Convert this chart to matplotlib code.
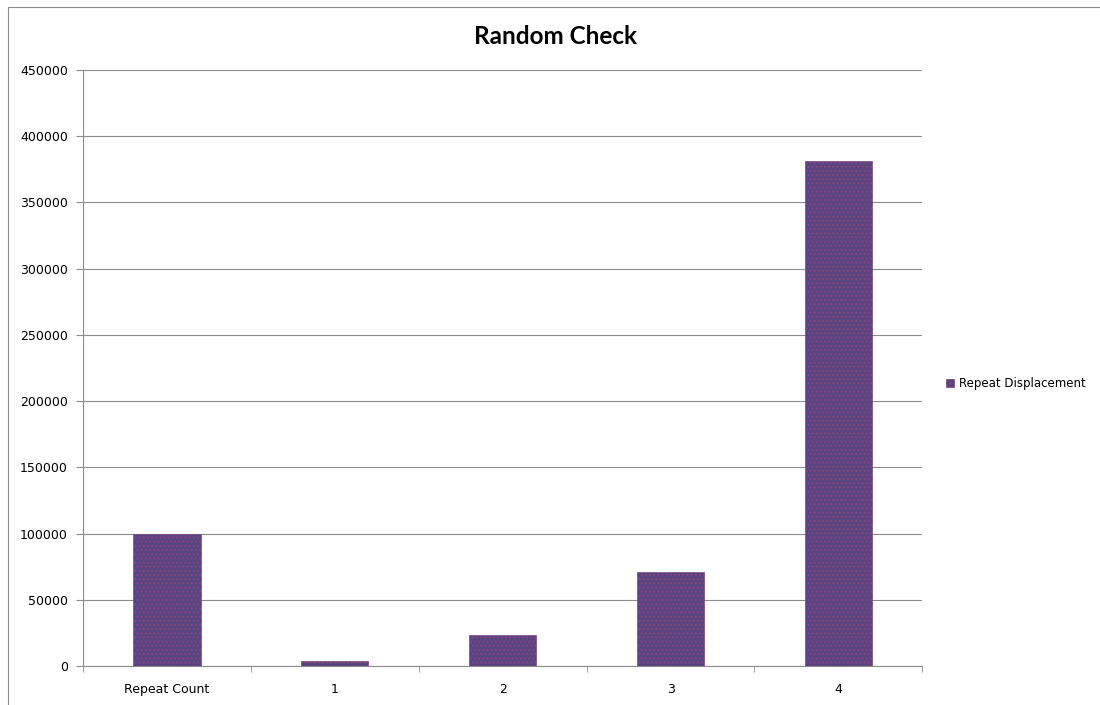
import matplotlib.pyplot as plt
from matplotlib.patches import Rectangle
import numpy as np

categories = ['Repeat Count', '1', '2', '3', '4']
displacement = [100000, 3800, 23300, 71300, 381000]
yticks = [0, 50000, 100000, 150000, 200000, 250000, 300000, 350000, 400000, 450000]

bar_color = '#584480'
dot_color = '#84467F'
grid_color = '#8C8C8C'

fig = plt.figure(figsize=(11, 7.05), dpi=100)
ax = fig.add_axes([0.0755, 0.0553, 0.763, 0.8454])

x = np.arange(len(categories))
ax.bar(x, displacement, width=0.4, color=bar_color, edgecolor=dot_color,
       linewidth=0.5, hatch='....', label='Repeat Displacement', zorder=3)

ax.set_xlim(-0.5, len(categories) - 0.5)
ax.set_ylim(0, 450000)
ax.set_yticks(yticks)
ax.set_yticklabels([str(v) for v in yticks])
ax.set_xticks(x)
ax.set_xticklabels(categories)
ax.set_xticks(np.arange(len(categories) + 1) - 0.5, minor=True)

ax.yaxis.grid(True, color=grid_color, linewidth=0.8, zorder=0)
ax.tick_params(axis='y', length=5, color=grid_color, labelsize=9, pad=6)
ax.tick_params(axis='x', which='major', length=0, labelsize=9, pad=12)
ax.tick_params(axis='x', which='minor', length=4, color=grid_color)

for side in ['top', 'right']:
    ax.spines[side].set_visible(False)
for side in ['left', 'bottom']:
    ax.spines[side].set_color(grid_color)

fig.text(0.505, 0.948, 'Random Check', ha='center', va='center',
         fontsize=17.5, fontweight='bold', family=['Lato', 'DejaVu Sans'])

ax.legend(loc='center left', bbox_to_anchor=(1.015, 0.474), frameon=False,
          fontsize=8.5, handlelength=0.7, handleheight=0.7, handletextpad=0.4)

# outer chart frame
fig.patches.append(Rectangle((0.007, -0.01), 1.0, 1.0, transform=fig.transFigure,
                             fill=False, edgecolor=grid_color, linewidth=0.8))

fig.savefig('out.png', dpi=100)
